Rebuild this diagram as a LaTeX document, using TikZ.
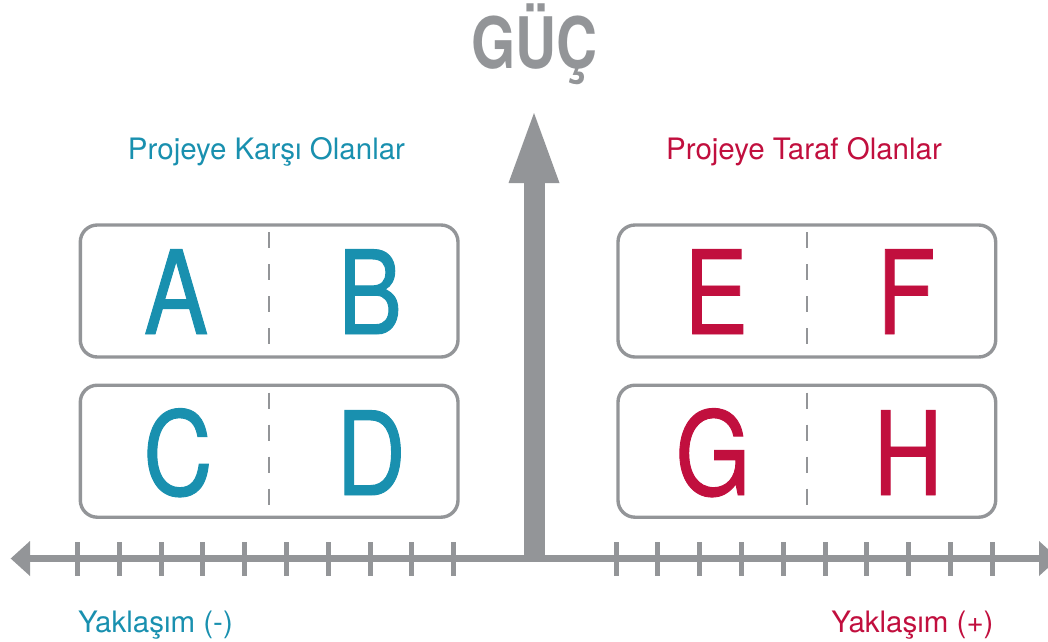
\documentclass[tikz,border=0pt]{standalone}
\usepackage{fontspec}
\setmainfont{TeX Gyre Heros}
\newfontfamily\letterfont[FakeStretch=0.83,FakeBold=0.8]{TeX Gyre Heros}
\newfontfamily\headfont[FakeStretch=0.8]{TeX Gyre Heros}
\definecolor{axisgray}{HTML}{939598}
\definecolor{opposeblue}{HTML}{1990AF}
\definecolor{supportred}{HTML}{C10F3E}
\begin{document}
\begin{tikzpicture}[x=1pt,y=-1pt,
  frame/.style={draw=axisgray, line width=3.4pt, rounded corners=17pt,
    minimum width=377.7pt, minimum height=132pt, inner sep=0pt},
  divider/.style={draw=axisgray, line width=2.5pt, dash pattern=on 16pt off 16pt},
  bigletter/.style={font=\letterfont\fontsize{116}{116}\selectfont, inner sep=0pt, anchor=base},
  caption/.style={font=\fontsize{29.5}{29.5}\selectfont, inner sep=0pt, anchor=base},
  tickmark/.style={draw=axisgray, line width=5pt},
  axisfill/.style={fill=axisgray}
]
\useasboundingbox (0,0) rectangle (1048,641);
\clip (0,0) rectangle (1048,641);

% heading of the vertical axis
\node[font=\headfont\bfseries\fontsize{71}{71}\selectfont, text=axisgray,
      anchor=base, inner sep=0pt] (power) at (534.5,68) {GÜÇ};

% group captions
\node[caption, text=opposeblue] (against) at (266.5,159) {Projeye Karşı Olanlar};
\node[caption, text=supportred] (for) at (804,159) {Projeye Taraf Olanlar};

% stakeholder frames
\node[frame] (AB) at (269.15,291) {};
\node[frame] (CD) at (269.15,451.2) {};
\node[frame] (EF) at (806.85,291) {};
\node[frame] (GH) at (806.85,451.2) {};

\foreach \f in {AB,CD,EF,GH}
  \draw[divider] ([yshift=-9pt]\f.north) -- ([yshift=10pt]\f.south);

% letters
\node[bigletter, text=opposeblue] (A) at (176,334) {A};
\node[bigletter, text=opposeblue] (B) at (370,334) {B};
\node[bigletter, text=opposeblue] (C) at (178,495) {C};
\node[bigletter, text=opposeblue] (D) at (371,495) {D};
\node[bigletter, text=supportred] (E) at (716,334) {E};
\node[bigletter, text=supportred] (F) at (906,334) {F};
\node[bigletter, text=supportred] (G) at (713,495) {G};
\node[bigletter, text=supportred] (H) at (908,495) {H};

% axes
\coordinate (origin) at (534,558.5);
\fill[axisfill] (523.5,558.5) rectangle (544.5,182);
\fill[axisfill] (508.5,183) -- (534,113) -- (559.5,183) -- cycle;
\fill[axisfill] (29,555) rectangle (1040,562);
\fill[axisfill] (10.7,558.5) -- (30,541) -- (30,576) -- cycle;
\fill[axisfill] (1058.3,558.5) -- (1039,541) -- (1039,576) -- cycle;
\foreach \i in {0,...,9} {
  \draw[tickmark] (77.5+41.8*\i,542) -- ++(0,34);
  \draw[tickmark] (616+41.8*\i,542) -- ++(0,34);
}

% axis captions
\node[caption, text=opposeblue] (neg) at (155.5,632) {Yaklaşım (-)};
\node[caption, text=supportred] (pos) at (912.5,632) {Yaklaşım (+)};
\end{tikzpicture}
\end{document}
